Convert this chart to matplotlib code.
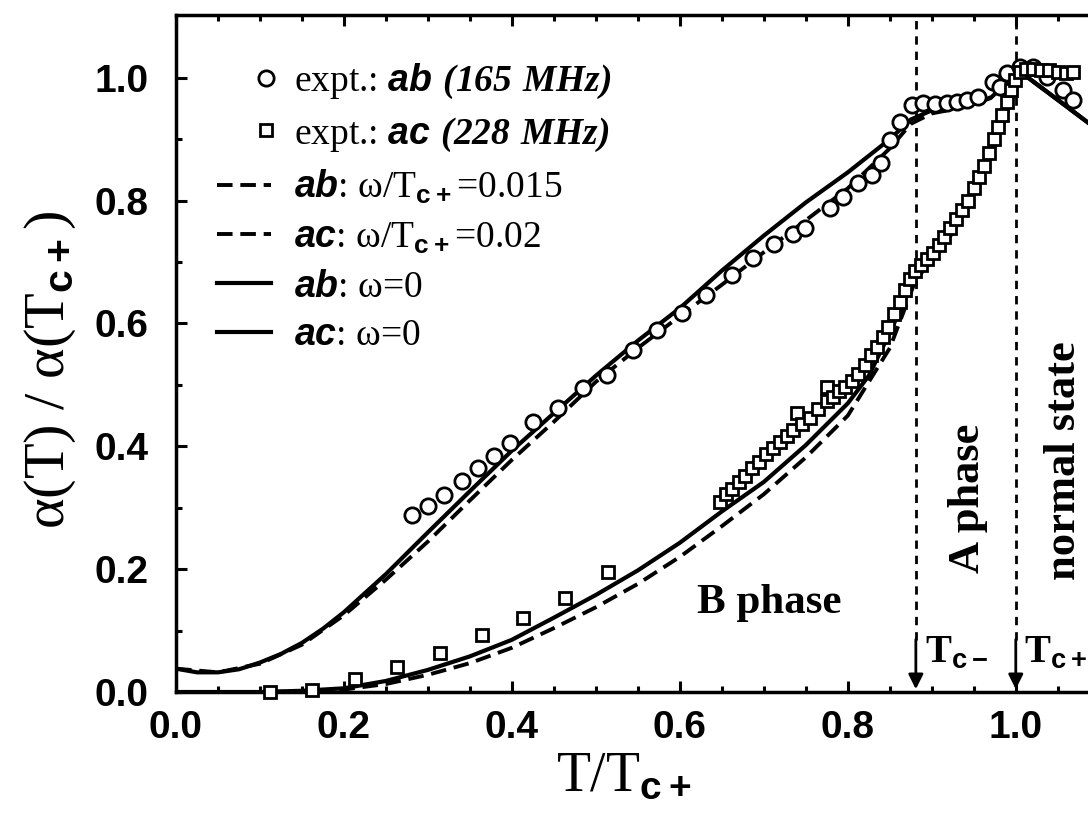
import numpy as np
import matplotlib
matplotlib.use('Agg')
import matplotlib.pyplot as plt
from matplotlib.legend_handler import HandlerLine2D

plt.rcParams['font.family'] = ['Liberation Serif', 'DejaVu Serif']
plt.rcParams['mathtext.fontset'] = 'custom'
plt.rcParams['mathtext.rm'] = 'Liberation Serif'
plt.rcParams['mathtext.it'] = 'Liberation Sans:italic:bold'
plt.rcParams['mathtext.bf'] = 'Liberation Serif:italic:bold'
plt.rcParams['mathtext.sf'] = 'Liberation Sans:bold'
plt.rcParams['mathtext.fallback'] = 'stix'

# experiment, ab (165 MHz)
ab_expt_x = [0.281, 0.300, 0.319, 0.340, 0.360, 0.379, 0.398, 0.425, 0.455, 0.485,
             0.513, 0.544, 0.573, 0.602, 0.631, 0.662, 0.687, 0.712, 0.735, 0.749,
             0.779, 0.794, 0.812, 0.829, 0.840, 0.850, 0.862, 0.877, 0.889, 0.904,
             0.918, 0.930, 0.942, 0.955, 0.973, 0.981, 0.989, 1.005, 1.020, 1.037,
             1.056, 1.068]
ab_expt_y = [0.288, 0.303, 0.321, 0.344, 0.365, 0.384, 0.406, 0.440, 0.463, 0.495,
             0.516, 0.557, 0.590, 0.617, 0.647, 0.679, 0.707, 0.730, 0.745, 0.756,
             0.788, 0.806, 0.829, 0.842, 0.862, 0.899, 0.928, 0.956, 0.959, 0.958,
             0.959, 0.961, 0.964, 0.969, 0.993, 0.985, 1.008, 1.018, 1.018, 1.002,
             0.980, 0.964]

# experiment, ac (228 MHz)
ac_expt_x = [0.112, 0.162, 0.213, 0.263, 0.314, 0.364, 0.413, 0.463, 0.514,
             0.648, 0.655, 0.662, 0.670, 0.678, 0.686, 0.694, 0.703, 0.711, 0.719,
             0.727, 0.735, 0.740, 0.745, 0.755, 0.765, 0.775, 0.775, 0.782, 0.790,
             0.797, 0.805, 0.812, 0.820, 0.828, 0.835, 0.842, 0.848, 0.855, 0.862,
             0.868, 0.874, 0.880, 0.887, 0.894, 0.901, 0.908, 0.915, 0.922, 0.929,
             0.936, 0.943, 0.950, 0.956, 0.962, 0.968, 0.974, 0.979, 0.984, 0.989,
             0.994, 0.999, 1.005, 1.012, 1.020, 1.030, 1.040, 1.050, 1.060, 1.068]
ac_expt_y = [0.000, 0.003, 0.021, 0.041, 0.064, 0.093, 0.120, 0.153, 0.195,
             0.310, 0.322, 0.330, 0.342, 0.352, 0.364, 0.375, 0.388, 0.398, 0.407,
             0.417, 0.427, 0.454, 0.437, 0.446, 0.460, 0.473, 0.497, 0.480, 0.490,
             0.497, 0.507, 0.518, 0.532, 0.548, 0.562, 0.578, 0.595, 0.615, 0.635,
             0.655, 0.672, 0.685, 0.695, 0.705, 0.715, 0.727, 0.740, 0.755, 0.770,
             0.785, 0.800, 0.820, 0.838, 0.857, 0.877, 0.900, 0.920, 0.940, 0.960,
             0.980, 0.997, 1.010, 1.015, 1.015, 1.013, 1.012, 1.010, 1.008, 1.010]

# theory, omega = 0 (solid)
ab_w0_x = [0.0, 0.025, 0.05, 0.075, 0.1, 0.125, 0.15, 0.175, 0.2, 0.25, 0.3, 0.35,
           0.4, 0.45, 0.5, 0.55, 0.6, 0.65, 0.7, 0.75, 0.8, 0.85, 0.875, 0.9, 0.95,
           0.97, 0.98, 1.005, 1.05, 1.086]
ab_w0_y = [0.038, 0.032, 0.032, 0.037, 0.048, 0.062, 0.080, 0.103, 0.130, 0.192,
           0.260, 0.327, 0.393, 0.454, 0.515, 0.572, 0.625, 0.686, 0.743, 0.797,
           0.846, 0.900, 0.932, 0.947, 0.958, 0.967, 0.980, 1.010, 0.964, 0.927]
ac_w0_x = [0.0, 0.1, 0.15, 0.2, 0.25, 0.3, 0.35, 0.4, 0.45, 0.5, 0.55, 0.6, 0.65,
           0.7, 0.75, 0.8, 0.825, 0.85, 0.865, 0.88, 0.9, 0.925, 0.95, 0.97, 0.985,
           1.0, 1.005, 1.05, 1.086]
ac_w0_y = [0.000, 0.000, 0.002, 0.006, 0.018, 0.036, 0.058, 0.085, 0.121, 0.158,
           0.198, 0.243, 0.294, 0.342, 0.402, 0.470, 0.515, 0.585, 0.630, 0.675,
           0.708, 0.748, 0.810, 0.870, 0.925, 0.985, 1.010, 0.964, 0.927]

# theory, finite omega (dashed)
ab_w_x = [0.0, 0.05, 0.1, 0.15, 0.2, 0.25, 0.3, 0.35, 0.4, 0.45, 0.5, 0.55, 0.6,
          0.65, 0.7, 0.75, 0.8, 0.85, 0.875, 0.9, 0.95, 0.98, 1.005, 1.05, 1.086]
ab_w_y = [0.038, 0.032, 0.046, 0.077, 0.125, 0.183, 0.245, 0.312, 0.378, 0.440,
          0.505, 0.560, 0.612, 0.663, 0.716, 0.768, 0.820, 0.885, 0.925, 0.942,
          0.955, 0.975, 1.010, 0.964, 0.927]
ac_w_x = [0.0, 0.1, 0.15, 0.2, 0.25, 0.3, 0.35, 0.4, 0.45, 0.5, 0.55, 0.6, 0.65,
          0.7, 0.75, 0.8, 0.85, 0.88, 0.9, 0.925, 0.95, 0.97, 0.985, 1.0, 1.005]
ac_w_y = [0.000, 0.000, 0.001, 0.004, 0.013, 0.028, 0.047, 0.072, 0.104, 0.138,
          0.176, 0.220, 0.270, 0.322, 0.382, 0.450, 0.560, 0.668, 0.705, 0.748,
          0.810, 0.870, 0.925, 0.985, 1.010]

tc_minus = 0.881
tc_plus = 1.0


class RightMarker(HandlerLine2D):
    # one legend marker near the right end of the handle box
    def get_numpoints(self, legend):
        return 2

    def get_xdata(self, legend, xdescent, ydescent, width, height, fontsize):
        x = np.array([-xdescent + 0.9 * width])
        return x, x


fig = plt.figure(figsize=(10.88, 8.23), dpi=100)
ax = fig.add_axes([176 / 1088, 131 / 823, 912 / 1088, 677.5 / 823])

l_ab, = ax.plot(ab_expt_x, ab_expt_y, 'o', ms=11, mfc='white', mec='black', mew=2,
                label=r'expt.: $\mathit{ab}\ \mathbf{(165\ MHz)}$', zorder=4, clip_on=False)
l_ac, = ax.plot(ac_expt_x, ac_expt_y, 's', ms=9, mfc='white', mec='black', mew=2,
                label=r'expt.: $\mathit{ac}\ \mathbf{(228\ MHz)}$', zorder=4, clip_on=False)
ax.plot(ab_w_x, ab_w_y, color='black', lw=2.8, dashes=(4, 2),
        label=r'$\mathit{ab}$: $\mathrm{\omega}$/T$_{\mathsf{c+}}$=0.015')
ax.plot(ac_w_x, ac_w_y, color='black', lw=2.8, dashes=(4, 2),
        label=r'$\mathit{ac}$: $\mathrm{\omega}$/T$_{\mathsf{c+}}$=0.02')
ax.plot(ab_w0_x, ab_w0_y, color='black', lw=3,
        label=r'$\mathit{ab}$: $\mathrm{\omega}$=0')
ax.plot(ac_w0_x, ac_w0_y, color='black', lw=3,
        label=r'$\mathit{ac}$: $\mathrm{\omega}$=0')

# phase boundaries
for tc in (tc_minus, tc_plus):
    ax.axvline(tc, ymin=0.085 / 1.103, ymax=1, color='black', lw=2, dashes=(3, 2.5))
    ax.annotate('', xy=(tc, 0), xytext=(tc, 0.09),
                arrowprops=dict(arrowstyle='-|>', color='black', lw=2, mutation_scale=22))

ax.text(tc_minus + 0.011, 0.047, r'T$_{\mathsf{c-}}$', fontsize=28, fontweight='bold',
        ha='left', va='baseline')
ax.text(tc_plus + 0.010, 0.047, r'T$_{\mathsf{c+}}$', fontsize=28, fontweight='bold',
        ha='left', va='baseline')
ax.text(0.706, 0.145, 'B phase', fontsize=31, fontweight='bold', ha='center', va='center')
ax.text(0.943, 0.316, 'A phase', fontsize=32, fontweight='bold', rotation=90,
        ha='center', va='center')
ax.text(1.057, 0.182, 'normal state', fontsize=32, fontweight='bold', rotation=90,
        ha='center', va='bottom')

ax.set_xlim(0, 1.086)
ax.set_ylim(0, 1.103)
ax.set_xticks(np.arange(0, 1.01, 0.2))
ax.set_yticks(np.arange(0, 1.01, 0.2))
ax.set_xticks(np.arange(0, 1.09, 0.05), minor=True)
ax.set_yticks(np.arange(0, 1.1, 0.1), minor=True)
ax.xaxis.set_major_formatter(plt.FormatStrFormatter('%.1f'))
ax.yaxis.set_major_formatter(plt.FormatStrFormatter('%.1f'))
ax.tick_params(which='both', direction='in', top=True, right=False, width=2.2)
ax.tick_params(which='major', length=8)
ax.tick_params(which='minor', length=4)
ax.tick_params(axis='x', pad=13)
ax.tick_params(axis='y', pad=20)
for lab in ax.get_xticklabels() + ax.get_yticklabels():
    lab.set_fontfamily('Liberation Sans')
    lab.set_fontweight('bold')
    lab.set_fontsize(28)
for s in ('left', 'bottom', 'top'):
    ax.spines[s].set_linewidth(2.5)
ax.spines['right'].set_visible(False)

ax.set_xlabel(r'T/T$_{\mathsf{c+}}$', fontsize=40)
ax.xaxis.set_label_coords(0.491, -0.088)
ax.set_ylabel(r'$\mathrm{\alpha}$(T) / $\mathrm{\alpha}$(T$_{\mathsf{c+}}$)', fontsize=42)
ax.yaxis.set_label_coords(-0.107, 0.475)

ax.legend(loc='upper left', bbox_to_anchor=(0.045, 0.93), frameon=False, fontsize=27,
          handlelength=1.45, handletextpad=0.6, labelspacing=0.38, borderpad=0,
          borderaxespad=0, handler_map={l_ab: RightMarker(), l_ac: RightMarker()})

fig.savefig('out.png', dpi=100)
